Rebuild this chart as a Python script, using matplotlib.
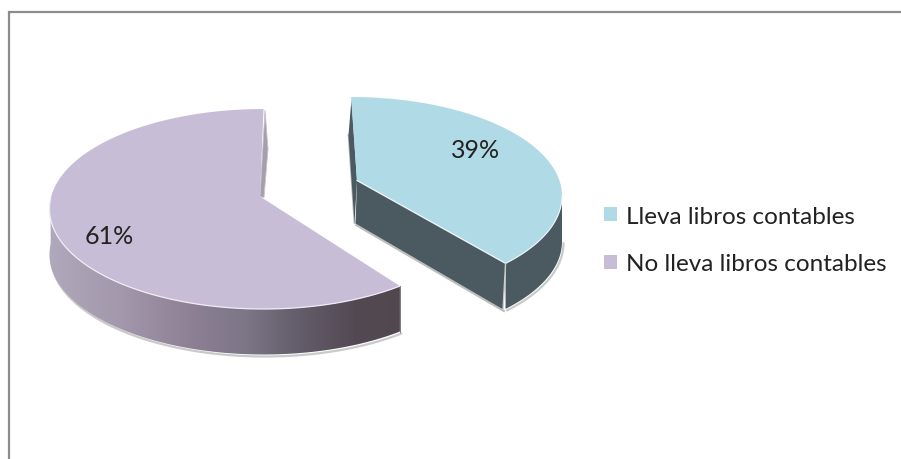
import numpy as np
import matplotlib
matplotlib.use('Agg')
import matplotlib.pyplot as plt
from matplotlib.patches import Polygon, Patch
from matplotlib.colors import LinearSegmentedColormap

plt.rcParams['font.family'] = ['Lato', 'DejaVu Sans']

# datos
categorias = ['Lleva libros contables', 'No lleva libros contables']
porcentajes = [39, 61]
etiquetas = ['39%', '61%']
colores = ['#B1DAE7', '#C8BDD6']

W, H = 901, 460
fig = plt.figure(figsize=(W / 100, H / 100), dpi=100)
ax = fig.add_axes([0, 0, 1, 1])
ax.set_xlim(0, W)
ax.set_ylim(H, 0)
ax.axis('off')

# marco: solo arriba e izquierda se ven
ax.plot([8.5, 8.5, 901], [460, 13, 13], color='#8C8C8C', lw=1.6, solid_joinstyle='miter')

angulo = np.array(porcentajes) * 3.6


def arco(cx, cy, rx, ry, t0, t1, n=120):
    # angulos en grados, desde las 12 en sentido horario
    t = np.radians(np.linspace(t0, t1, n))
    return np.column_stack([cx + rx * np.sin(t), cy - ry * np.cos(t)])


def lado(puntos, prof):
    abajo = puntos[::-1] + [0, prof]
    return np.vstack([puntos, abajo])


def sombra(puntos, prof, dx=1.5, dy=2.0):
    borde = puntos + [dx, prof + dy]
    ax.plot(borde[:, 0], borde[:, 1], color='#BDBDBD', lw=1.6, alpha=0.8,
            solid_capstyle='round', zorder=1)


# ---- porcion morada (61%)
cx, cy, rx, ry = 263.5, 210, 214, 100
ini = angulo[0]
arco_m = arco(cx, cy, rx, ry, ini, 360)
apice_m = (260, 197.5)
frente = arco(cx, cy, rx, ry, ini, 276)
sombra(frente, 45.5)

# cara interior detras de la porcion
ax.add_patch(Polygon([(265, 111), (268, 150), (264, 198.5), (260, 197.5)],
                     fc='#A69DAF', ec='#C4C4C4', lw=0.6, zorder=2))

lado_m = lado(frente, 45.5)
pared = ax.add_patch(Polygon(lado_m, fc='none', ec='none', zorder=3))
cmap = LinearSegmentedColormap.from_list('pared', [
    (0.00, '#B0A8BC'), (0.20, '#A398AC'), (0.40, '#8E8095'),
    (0.56, '#7C7686'), (0.70, '#655E6C'), (0.88, '#524852'), (1.00, '#51484F')])
img = ax.imshow(np.linspace(0, 1, 256)[None, :], cmap=cmap, aspect='auto',
                extent=(49, 401, 360, 200), zorder=3)
img.set_clip_path(pared)
ax.set_xlim(0, W)
ax.set_ylim(H, 0)

tapa_m = np.vstack([[apice_m], arco_m])
ax.add_patch(Polygon(tapa_m, fc=colores[1], ec='none', zorder=4))
ax.plot(frente[:, 0], frente[:, 1], color='#EFEDF2', lw=0.9, zorder=5)
ax.plot([frente[0, 0]] * 2, [frente[0, 1], frente[0, 1] + 45.5], color='#6A6270', lw=0.6, zorder=5)

# ---- porcion azul (39%)
cx, cy, rx, ry = 351, 197, 211, 99
fin = angulo[0] - 7.5  # la perspectiva acorta el angulo
arco_a = arco(cx, cy, rx, ry, 0, fin)
apice_a = (357, 181.5)
oscuro = '#4A5A60'

# cara interior izquierda
ax.add_patch(Polygon([(351.5, 100), (348.5, 136), (354.5, 224), (357, 182)],
                     fc=oscuro, ec='none', zorder=2))
ax.plot([348.5, 354.5], [136, 224], color='#B5B5B5', lw=1.2, zorder=1.5)

extremo = arco_a[-1]
curva = arco(cx, cy, rx, ry, 90, fin)
sombra(curva, 45.5, dx=1.5, dy=1.5)
ax.add_patch(Polygon(lado(curva, 45.5), fc=oscuro, ec='none', zorder=3))

recta = np.array([apice_a, extremo])
recta_abajo = recta + [[-1.5, 43], [-2.5, 46]]
ax.plot(recta_abajo[:, 0] + 0.8, recta_abajo[:, 1] + 1.6, color='#BDBDBD', lw=1.6, zorder=1)
ax.add_patch(Polygon(np.vstack([recta, recta_abajo[::-1]]), fc=oscuro, ec='none', zorder=3))

ax.add_patch(Polygon(np.vstack([[apice_a], arco_a]), fc=colores[0], ec='none', zorder=4))
ax.plot(recta[:, 0], recta[:, 1], color='#EEF6F8', lw=0.9, zorder=5)
ax.plot(curva[:, 0], curva[:, 1], color='#EEF6F8', lw=0.8, zorder=5)
ax.plot([extremo[0], recta_abajo[1, 0]], [extremo[1], recta_abajo[1, 1]],
        color='#C9CFD1', lw=1.0, zorder=5)

# etiquetas de porcentaje
ax.text(476, 150.5, etiquetas[0], ha='center', va='center', fontsize=18, color='#222222', zorder=6)
ax.text(109, 236.5, etiquetas[1], ha='center', va='center', fontsize=18, color='#222222', zorder=6)

# leyenda
handles = [Patch(fc=c, ec='none') for c in colores]
ax.legend(handles, categorias, loc='center left', bbox_to_anchor=(604, 241),
          bbox_transform=ax.transData, frameon=False, fontsize=17.5,
          labelcolor='#222222', handlelength=0.53, handleheight=0.53, handletextpad=0.37,
          labelspacing=1.1, borderpad=0, borderaxespad=0)

fig.savefig('out.png', dpi=100)
